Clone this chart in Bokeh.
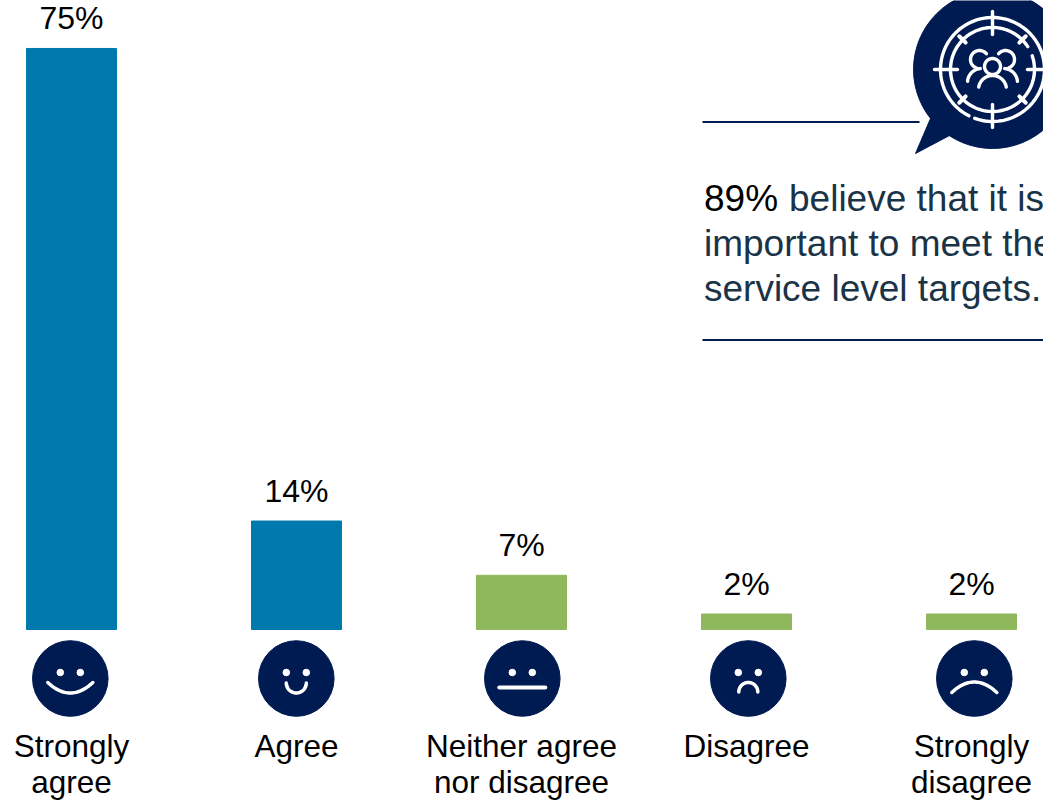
import math
from bokeh.core.properties import value
from bokeh.embed import file_html
from bokeh.models import ColumnDataSource, Range1d
from bokeh.plotting import figure
from bokeh.resources import INLINE

categories = ["Strongly\nagree", "Agree", "Neither agree\nnor disagree", "Disagree", "Strongly\ndisagree"]
percentages = [75, 14, 7, 2, 2]
bar_colors = ["#0079AC", "#0079AC", "#8FB85C", "#8FB85C", "#8FB85C"]
callout_lead = ["89%", "", ""]
callout_rest = ["believe that it is", "important to meet the", "service level targets."]

WIDTH, HEIGHT = 1043, 801
NAVY = "#001A52"
FONT = value("Liberation Sans")

# Main scales: category slots along x, percentage points along y.
SLOT_PX, FIRST_PX = 225.0, 71.0
PCT_PX, BASE_PX = 7.747, 629.0
p = figure(
    width=WIDTH, height=HEIGHT, output_backend="svg", toolbar_location=None,
    x_range=Range1d(-FIRST_PX / SLOT_PX, (WIDTH - FIRST_PX) / SLOT_PX),
    y_range=Range1d((BASE_PX - HEIGHT) / PCT_PX, BASE_PX / PCT_PX),
    min_border=0, outline_line_color=None, background_fill_color="white",
)
p.xaxis.visible = False
p.yaxis.visible = False
p.grid.visible = False

# A page-like coordinate system for the icons and the callout furniture.
p.extra_x_ranges["page"] = Range1d(0, WIDTH)
p.extra_y_ranges["page"] = Range1d(HEIGHT, 0)
PAGE = dict(x_range_name="page", y_range_name="page")

slots = list(range(len(categories)))
src = ColumnDataSource(dict(
    slot=slots, pct=percentages, color=bar_colors,
    pct_label=[f"{v}%" for v in percentages],
))
p.vbar(x="slot", top="pct", bottom=0, width=0.4, color="color", source=src)
p.text(x="slot", y="pct", text="pct_label", source=src, text_font=FONT,
       text_font_size="32px", text_color="#000000", text_align="center",
       text_baseline="alphabetic", y_offset=-30)

# Category captions, written line by line so the two-row labels stay aligned.
for slot, cat in zip(slots, categories):
    for row, line in enumerate(cat.split("\n")):
        p.text(x=[FIRST_PX + SLOT_PX * slot], y=[745 + 36 * row], text=[line], text_font=FONT,
               text_font_size="31.5px", text_color="#000000", text_align="center",
               text_baseline="alphabetic", **PAGE)


def arc_xy(cx, cy, r, start_deg, end_deg, n=48):
    """Polyline along a circle; angles run clockwise on the page from east."""
    ts = [math.radians(start_deg + (end_deg - start_deg) * i / n) for i in range(n + 1)]
    return [cx + r * math.cos(t) for t in ts], [cy + r * math.sin(t) for t in ts]


def bow_xy(cx, half_w, y_end, y_mid, n=32):
    """Parabolic mouth running from one corner through the middle to the other."""
    xs, ys = [], []
    for i in range(n + 1):
        u = -1 + 2 * i / n
        xs.append(cx + half_w * u)
        ys.append(y_mid + (y_end - y_mid) * u * u)
    return xs, ys


def stroke(xs, ys, width=3.5):
    p.line(xs, ys, line_color="white", line_width=width, line_cap="round", **PAGE)


# Sentiment faces under the bars.
FACE_Y, FACE_R = 678, 37.8
face_x = [69.8, 295.8, 521.8, 747.8, 973.8]
p.circle(x=face_x, y=[FACE_Y] * 5, radius=FACE_R, color=NAVY, **PAGE)
for fx in face_x:
    p.circle(x=[fx - 10, fx + 10], y=[672, 672], radius=3.3, color="white", **PAGE)
stroke(*bow_xy(face_x[0], 22.5, 682, 692.5))
stroke(*arc_xy(face_x[1], 682.5, 10, 0, 180))
stroke([face_x[2] - 23, face_x[2] + 23], [687, 687], width=4)
stroke(*arc_xy(face_x[3], 691.5, 9.5, 180, 360))
stroke(*bow_xy(face_x[4], 22.5, 692, 681.5))

# Speech bubble with the target-and-people emblem.
BX, BY = 992, 69
EMBLEM_W = 3.4
p.circle(x=[BX], y=[BY], radius=79, color=NAVY, **PAGE)
p.patch([915, 930, 949], [153, 118, 135], color=NAVY, **PAGE)
stroke(*arc_xy(BX, BY, 52, 117, 470, n=120), width=EMBLEM_W)
stroke(*arc_xy(BX, BY, 42, -19, 327, n=120), width=EMBLEM_W)
for a in (0, 90, 180, 270):
    r = math.radians(a)
    stroke([BX + 35 * math.cos(r), BX + 58 * math.cos(r)],
           [BY + 35 * math.sin(r), BY + 58 * math.sin(r)], width=EMBLEM_W)
for a in (45, 135, 225, 315):
    r = math.radians(a)
    stroke([BX + 38 * math.cos(r), BX + 47 * math.cos(r)],
           [BY + 38 * math.sin(r), BY + 47 * math.sin(r)], width=EMBLEM_W + 0.6)
stroke(*arc_xy(BX, BY - 3, 8, 0, 360), width=EMBLEM_W)
stroke(*arc_xy(BX, BY + 20, 14, 190, 350), width=EMBLEM_W)
stroke(*arc_xy(BX - 13, BY - 10, 9, 110, 320), width=EMBLEM_W)
stroke(*arc_xy(BX + 13, BY - 10, 9, 220, 430), width=EMBLEM_W)
stroke(*arc_xy(BX - 11, BY + 13, 14, 185, 265), width=EMBLEM_W)
stroke(*arc_xy(BX + 11, BY + 13, 14, 275, 355), width=EMBLEM_W)

# Callout rules and text.
p.line([702, 919], [121.5, 121.5], line_color=NAVY, line_width=2, **PAGE)
p.line([702, 1043], [339.5, 339.5], line_color=NAVY, line_width=2, **PAGE)
for row, (lead, rest) in enumerate(zip(callout_lead, callout_rest)):
    y = 198 + 45 * row
    if lead:
        p.text(x=[703.5], y=[y], text=[lead], text_font=FONT, text_font_size="37px",
               text_color="#000000", text_baseline="alphabetic", **PAGE)
    p.text(x=[788.5 if lead else 703.5], y=[y], text=[rest], text_font=FONT,
           text_font_size="37px", text_color="#1A3347", text_baseline="alphabetic", **PAGE)

open("out.html", "w").write(file_html(p, INLINE))
